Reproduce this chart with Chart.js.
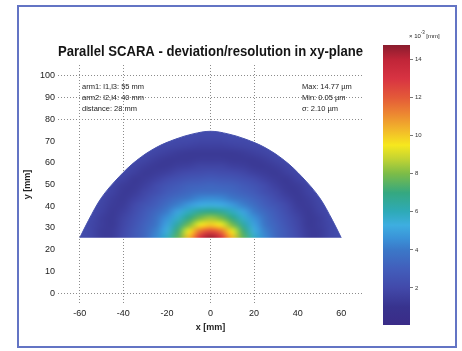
<!DOCTYPE html>
<html>
<head>
<meta charset="utf-8">
<script src="https://cdn.jsdelivr.net/npm/chart.js@4.4.1/dist/chart.umd.min.js"></script>
<style>
  html, body { margin: 0; padding: 0; background: #fff; }
  #wrap { position: relative; width: 462px; height: 351px; overflow: hidden; }
  #frame { position: absolute; left: 17px; top: 5px; width: 440px; height: 343px; border: 2px solid #6374c4; box-sizing: border-box; }
  #main { position: absolute; left: 0; top: 0; width: 462px; height: 351px; }
  #cbar { position: absolute; left: 370px; top: 25px; width: 92px; height: 310px; }
</style>
</head>
<body>
<div id="wrap">
  <div id="frame"></div>
  <canvas id="main" width="462" height="351"></canvas>
  <canvas id="cbar" width="92" height="310"></canvas>
</div>
<script>
// deviation field, in µm (x10^-3 mm)
const gridX = [-60, -55, -50, -45, -40, -35, -30, -25, -20, -15, -10, -5, 0, 5, 10, 15, 20, 25, 30, 35, 40, 45, 50, 55, 60];
const gridY = [25.5, 28.5, 31.5, 34.5, 37.5, 40.5, 43.5, 46.5, 49.5, 52.5, 55.5, 58.5, 61.5, 64.5, 67.5, 70.5, 73.5];
// one row per gridY value, bottom row first
const devRows = [
  [2.2,1.9,1.4,1.4,2.1,2.7,3.4,4.4,5.8,7.6,10.3,13.0,14.5,13.0,10.3,7.6,5.8,4.4,3.4,2.7,2.1,1.4,1.4,1.9,2.2],
  [2.2,1.9,1.4,1.4,2.0,2.7,3.3,4.2,5.4,7.2,9.4,11.5,12.5,11.5,9.4,7.2,5.4,4.2,3.3,2.7,2.0,1.4,1.4,1.9,2.2],
  [2.2,1.9,1.5,1.3,1.9,2.5,3.2,3.9,5.0,6.4,7.9,9.4,10.0,9.4,7.9,6.4,5.0,3.9,3.2,2.5,1.9,1.3,1.5,1.9,2.2],
  [2.2,2.0,1.5,1.3,1.8,2.4,3.0,3.7,4.6,5.7,6.9,7.9,8.4,7.9,6.9,5.7,4.6,3.7,3.0,2.4,1.8,1.3,1.5,2.0,2.2],
  [2.2,2.0,1.7,1.3,1.6,2.2,2.8,3.4,4.1,5.0,5.9,6.6,6.9,6.6,5.9,5.0,4.1,3.4,2.8,2.2,1.6,1.3,1.7,2.0,2.2],
  [2.2,2.1,1.8,1.4,1.4,2.0,2.5,3.0,3.6,4.2,4.8,5.2,5.4,5.2,4.8,4.2,3.6,3.0,2.5,2.0,1.4,1.4,1.8,2.1,2.2],
  [2.2,2.2,1.9,1.5,1.3,1.7,2.2,2.7,3.2,3.6,4.0,4.4,4.5,4.4,4.0,3.6,3.2,2.7,2.2,1.7,1.3,1.5,1.9,2.2,2.2],
  [2.2,2.2,2.0,1.7,1.3,1.4,1.9,2.3,2.8,3.1,3.4,3.6,3.6,3.6,3.4,3.1,2.8,2.3,1.9,1.4,1.3,1.7,2.0,2.2,2.2],
  [2.2,2.2,2.1,1.8,1.4,1.3,1.6,2.1,2.5,2.8,3.1,3.2,3.3,3.2,3.1,2.8,2.5,2.1,1.6,1.3,1.4,1.8,2.1,2.2,2.2],
  [2.2,2.2,2.2,2.0,1.7,1.3,1.4,1.7,2.1,2.4,2.6,2.7,2.8,2.7,2.6,2.4,2.1,1.7,1.4,1.3,1.7,2.0,2.2,2.2,2.2],
  [2.2,2.2,2.2,2.1,1.9,1.6,1.3,1.4,1.6,1.9,2.1,2.2,2.3,2.2,2.1,1.9,1.6,1.4,1.3,1.6,1.9,2.1,2.2,2.2,2.2],
  [2.2,2.2,2.2,2.2,2.1,1.8,1.5,1.3,1.3,1.5,1.6,1.8,1.8,1.8,1.6,1.5,1.3,1.3,1.5,1.8,2.1,2.2,2.2,2.2,2.2],
  [2.2,2.2,2.2,2.2,2.2,2.0,1.8,1.5,1.3,1.3,1.3,1.4,1.4,1.4,1.3,1.3,1.3,1.5,1.8,2.0,2.2,2.2,2.2,2.2,2.2],
  [2.2,2.2,2.2,2.2,2.2,2.2,2.0,1.8,1.6,1.4,1.3,1.3,1.3,1.3,1.3,1.4,1.6,1.8,2.0,2.2,2.2,2.2,2.2,2.2,2.2],
  [2.2,2.2,2.2,2.2,2.2,2.2,2.2,2.0,1.9,1.8,1.7,1.6,1.6,1.6,1.7,1.8,1.9,2.0,2.2,2.2,2.2,2.2,2.2,2.2,2.2],
  [2.2,2.2,2.2,2.2,2.2,2.2,2.2,2.2,2.1,2.0,2.0,1.9,1.9,1.9,2.0,2.0,2.1,2.2,2.2,2.2,2.2,2.2,2.2,2.2,2.2],
  [2.2,2.2,2.2,2.2,2.2,2.2,2.2,2.2,2.2,2.2,2.2,2.1,2.1,2.1,2.2,2.2,2.2,2.2,2.2,2.2,2.2,2.2,2.2,2.2,2.2]
];

// outline of the reachable area (mm)
const arcX = [-60, -56, -50, -42, -34, -25, -16, -8, 0, 8, 16, 25, 34, 42, 50, 56, 60];
const arcY = [25.5, 33.5, 44, 53.5, 61, 67, 70.9, 73.3, 74.5, 73.3, 70.9, 67, 61, 53.5, 44, 33.5, 25.5];

const xTicks = [-60, -40, -20, 0, 20, 40, 60];
const yTicks = [0, 10, 20, 30, 40, 50, 60, 70, 80, 90, 100];
const xGridShown = [-60, -40, 0, 20];
const yGridShown = [0, 80, 90, 100];

const cbMin = 0.05;
const cbMax = 14.77;
const cbTicks = [2, 4, 6, 8, 10, 12, 14];

const paramLines = ['arm1: l1,l3: 55 mm', 'arm2: l2,l4: 40 mm', 'distance: 28 mm'];
const statLines = ['Max: 14.77 µm', 'Min: 0.05 µm', 'σ: 2.10 µm'];

// jet-like colour map as it appears on the colour bar
const cmapVals = [0.05, 1.0, 2.0, 3.0, 4.0, 4.6, 5.3, 6.0, 7.0, 8.0, 8.8, 9.5, 10.3, 11.2, 12.0, 13.0, 14.0, 14.77];
const cmapCols = ['#3a2c88', '#38338e', '#4249aa', '#425ebb', '#3b78c8', '#3a92d8', '#3eaee0', '#2eaab8', '#35a880',
                  '#7cbc48', '#c4d432', '#f6e81e', '#f2b82a', '#ec8432', '#e45a38', '#d83342', '#c02538', '#8a1c2e'];

const FONT = '"Liberation Sans", Arial, Helvetica, sans-serif';
Chart.defaults.font.family = FONT;

function hexRgb(h) {
    const n = parseInt(h.slice(1), 16);
    return [(n >> 16) & 255, (n >> 8) & 255, n & 255];
}
const cmapRgb = cmapCols.map(hexRgb);

function colorFor(v) {
    if (v <= cmapVals[0]) return cmapRgb[0];
    for (let i = 1; i < cmapVals.length; i++) {
        if (v <= cmapVals[i]) {
            const t = (v - cmapVals[i - 1]) / (cmapVals[i] - cmapVals[i - 1]);
            const a = cmapRgb[i - 1], b = cmapRgb[i];
            return [0, 1, 2].map(k => Math.round(a[k] + (b[k] - a[k]) * t));
        }
    }
    return cmapRgb[cmapRgb.length - 1];
}

// paints the value grid (smoothed) inside the outline dataset
const heatmapPlugin = {
    id: 'heatmap',
    beforeDatasetsDraw(chart) {
        const { ctx, scales: { x, y } } = chart;
        const cols = gridX.length, rows = gridY.length;
        const off = document.createElement('canvas');
        off.width = cols;
        off.height = rows;
        const octx = off.getContext('2d');
        const img = octx.createImageData(cols, rows);
        devRows.forEach((row, j) => {
            const py = rows - 1 - j;
            row.forEach((v, i) => {
                const c = colorFor(v);
                const k = (py * cols + i) * 4;
                img.data[k] = c[0];
                img.data[k + 1] = c[1];
                img.data[k + 2] = c[2];
                img.data[k + 3] = 255;
            });
        });
        octx.putImageData(img, 0, 0);

        const hx = (gridX[1] - gridX[0]) / 2, hy = (gridY[1] - gridY[0]) / 2;
        const left = x.getPixelForValue(gridX[0] - hx);
        const right = x.getPixelForValue(gridX[cols - 1] + hx);
        const top = y.getPixelForValue(gridY[rows - 1] + hy);
        const bottom = y.getPixelForValue(gridY[0] - hy);

        const meta = chart.getDatasetMeta(0);
        ctx.save();
        ctx.beginPath();
        if (meta.dataset && meta.dataset.path) {
            meta.dataset.path(ctx);
        } else {
            meta.data.forEach((p, i) => i ? ctx.lineTo(p.x, p.y) : ctx.moveTo(p.x, p.y));
        }
        ctx.closePath();
        ctx.clip();
        ctx.imageSmoothingEnabled = true;
        ctx.imageSmoothingQuality = 'high';
        ctx.drawImage(off, left, top, right - left, bottom - top);
        ctx.restore();
    }
};

// parameter / statistics text inside the axes
const notesPlugin = {
    id: 'notes',
    afterDatasetsDraw(chart) {
        const { ctx, scales: { x, y } } = chart;
        const lineY = [95, 90, 85];
        ctx.save();
        ctx.font = '7.5px ' + FONT;
        ctx.fillStyle = '#222';
        ctx.textBaseline = 'middle';
        ctx.textAlign = 'left';
        paramLines.forEach((t, i) => ctx.fillText(t, x.getPixelForValue(-59), y.getPixelForValue(lineY[i])));
        statLines.forEach((t, i) => ctx.fillText(t, x.getPixelForValue(42), y.getPixelForValue(lineY[i])));
        ctx.restore();
    }
};

const tickFont = { family: FONT, size: 9 };
const titleFont = { family: FONT, size: 9, weight: 'bold' };

new Chart(document.getElementById('main'), {
    type: 'scatter',
    data: {
        datasets: [{
            label: 'workspace',
            data: arcX.map((v, i) => ({ x: v, y: arcY[i] })),
            showLine: true,
            tension: 0.35,
            borderColor: '#4651ad',
            borderWidth: 1,
            pointRadius: 0,
            fill: false
        }]
    },
    options: {
        responsive: false,
        animation: false,
        layout: { padding: { left: 20, right: 99, top: 0, bottom: 8 } },
        plugins: {
            legend: { display: false },
            tooltip: { enabled: false },
            title: {
                display: true,
                text: 'Parallel SCARA - deviation/resolution in xy-plane',
                fullSize: false,
                color: '#151515',
                font: { family: FONT, size: 14, weight: 'bold' },
                padding: { top: 43.6, bottom: 4.6 }
            }
        },
        scales: {
            x: {
                type: 'linear',
                min: -70,
                max: 70,
                afterBuildTicks: s => { s.ticks = xTicks.map(v => ({ value: v })); },
                afterFit: s => { s.height = 39; },
                ticks: { font: tickFont, color: '#222', padding: 4, maxRotation: 0, autoSkip: false },
                grid: {
                    drawTicks: false,
                    lineWidth: 1,
                    color: c => (c.tick && xGridShown.includes(c.tick.value)) ? '#8c8c8c' : 'rgba(0,0,0,0)'
                },
                border: { display: false, dash: [1, 2] },
                title: { display: true, text: 'x [mm]', font: titleFont, color: '#222', padding: { top: 0, bottom: 9.6 } }
            },
            y: {
                type: 'linear',
                min: -5,
                max: 105,
                afterBuildTicks: s => { s.ticks = yTicks.map(v => ({ value: v })); },
                afterFit: s => { s.width = 38; },
                ticks: { font: tickFont, color: '#222', padding: 3, autoSkip: false },
                grid: {
                    drawTicks: false,
                    lineWidth: 1,
                    color: c => (c.tick && yGridShown.includes(c.tick.value)) ? '#8c8c8c' : 'rgba(0,0,0,0)'
                },
                border: { display: false, dash: [1, 2] },
                title: { display: true, text: 'y [mm]', font: titleFont, color: '#222', padding: { top: 2.6, bottom: 0 } }
            }
        }
    },
    plugins: [heatmapPlugin, notesPlugin]
});

// colour bar
function barGradient(chart) {
    const { ctx, chartArea, scales } = chart;
    if (!chartArea) return cmapCols[0];
    const y0 = scales.y.getPixelForValue(cbMin);
    const y1 = scales.y.getPixelForValue(cbMax);
    const g = ctx.createLinearGradient(0, y0, 0, y1);
    cmapVals.forEach((v, i) => {
        const t = Math.min(1, Math.max(0, (v - cbMin) / (cbMax - cbMin)));
        g.addColorStop(t, cmapCols[i]);
    });
    return g;
}

const cbLabelPlugin = {
    id: 'cbLabel',
    afterDraw(chart) {
        const { ctx, chartArea } = chart;
        let xPos = chartArea.right - 1;
        const yPos = chartArea.top - 9;
        ctx.save();
        ctx.fillStyle = '#222';
        ctx.textBaseline = 'middle';
        ctx.textAlign = 'left';
        ctx.font = '6px ' + FONT;
        ctx.fillText('× 10', xPos, yPos);
        xPos += ctx.measureText('× 10').width;
        ctx.font = '4.5px ' + FONT;
        ctx.fillText('-3', xPos, yPos - 3);
        xPos += ctx.measureText('-3').width + 1.5;
        ctx.font = '6px ' + FONT;
        ctx.fillText('[mm]', xPos, yPos);
        ctx.restore();
    }
};

new Chart(document.getElementById('cbar'), {
    type: 'bar',
    data: {
        labels: [''],
        datasets: [{
            data: [[cbMin, cbMax]],
            backgroundColor: c => barGradient(c.chart),
            borderWidth: 0,
            barPercentage: 1,
            categoryPercentage: 1
        }]
    },
    options: {
        responsive: false,
        animation: false,
        layout: { padding: { left: 13, right: 0, top: 20, bottom: 10 } },
        plugins: { legend: { display: false }, tooltip: { enabled: false } },
        scales: {
            x: { display: false },
            y: {
                position: 'right',
                min: cbMin,
                max: cbMax,
                afterBuildTicks: s => { s.ticks = cbTicks.map(v => ({ value: v })); },
                afterFit: s => { s.width = 52; },
                ticks: { font: { family: FONT, size: 6 }, color: '#333', padding: 2 },
                grid: { drawOnChartArea: false, drawTicks: true, tickLength: 3, color: '#777' },
                border: { display: false }
            }
        }
    },
    plugins: [cbLabelPlugin]
});
</script>
</body>
</html>
